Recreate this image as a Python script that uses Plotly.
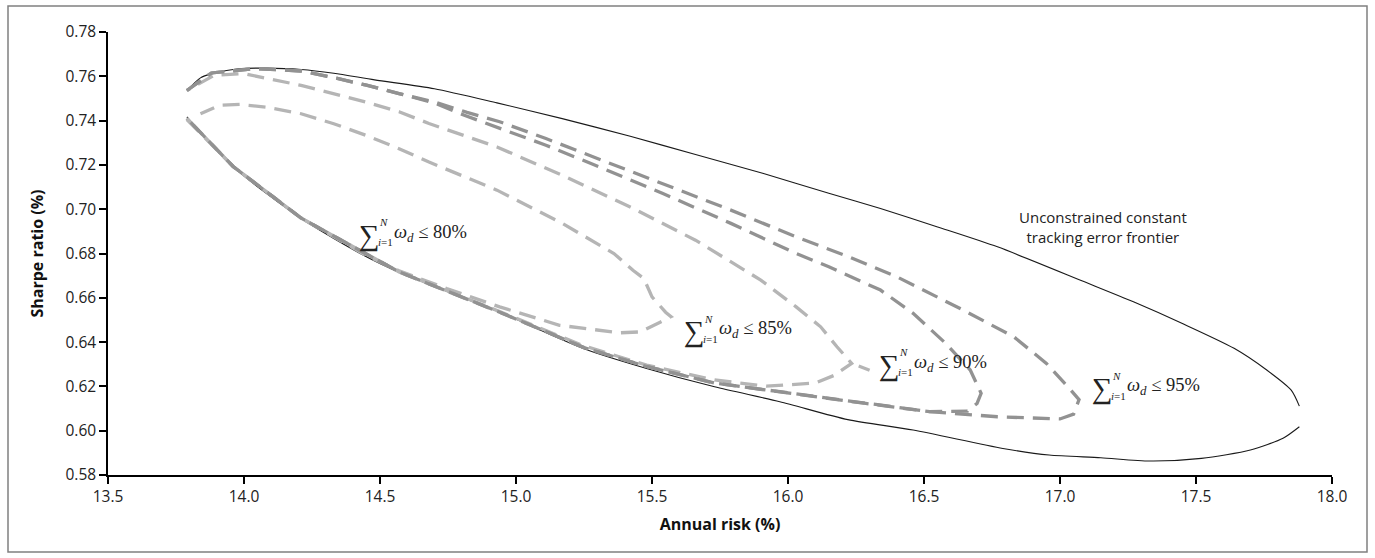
import plotly.graph_objects as go

# ---------------- data ----------------
risk_ticks = [13.5, 14.0, 14.5, 15.0, 15.5, 16.0, 16.5, 17.0, 17.5, 18.0]
sharpe_ticks = [0.58, 0.60, 0.62, 0.64, 0.66, 0.68, 0.70, 0.72, 0.74, 0.76, 0.78]

# Unconstrained constant tracking error frontier (upper and lower branch)
frontier_upper_risk = [13.79, 13.84, 13.88, 13.98, 14.08, 14.21, 14.33, 14.48, 14.70, 14.93,
                       15.17, 15.42, 15.66, 15.91, 16.15, 16.34, 16.55, 16.77, 17.09, 17.27, 17.45,
                       17.64, 17.76, 17.85, 17.88]
frontier_upper_sharpe = [0.7536, 0.7593, 0.7611, 0.7634, 0.7637, 0.7631, 0.7614, 0.7584, 0.7544, 0.7480,
                         0.7409, 0.7329, 0.7247, 0.7161, 0.7072, 0.7003, 0.6920, 0.6830, 0.6672, 0.6582,
                         0.6484, 0.6372, 0.6274, 0.6183, 0.6111]
frontier_lower_risk = [17.88, 17.82, 17.70, 17.52, 17.33, 17.15, 16.96, 16.79, 16.46, 16.22,
                       15.97, 15.73, 15.48, 15.25, 14.94, 14.57, 14.45, 14.21, 13.96, 13.79]
frontier_lower_sharpe = [0.6018, 0.5966, 0.5913, 0.5875, 0.5863, 0.5878, 0.5890, 0.5920, 0.6003, 0.6050,
                         0.6131, 0.6198, 0.6281, 0.6370, 0.6535, 0.6715, 0.6785, 0.6958, 0.7191, 0.7417]

# sum(w_d) <= 95%
c95_risk = [13.79, 13.88, 14.04, 14.21, 14.33, 14.45, 14.57, 14.70, 14.82, 14.94,
            15.11, 15.30, 15.54, 15.79, 16.03, 16.22, 16.40, 16.645, 16.83, 16.95, 17.04,
            17.07, 17.05, 17.00, 16.77, 16.52, 16.28, 16.15, 15.97, 15.73, 15.48,
            15.25, 14.94, 14.57, 14.21, 13.96, 13.79]
c95_sharpe = [0.7536, 0.7615, 0.7635, 0.7624, 0.7594, 0.7560, 0.7522, 0.7484, 0.7437, 0.7395,
              0.7319, 0.7229, 0.7116, 0.6996, 0.6875, 0.6787, 0.6695, 0.6544, 0.6424, 0.6304, 0.6183,
              0.6140, 0.6075, 0.6053, 0.6063, 0.6086, 0.6124, 0.6146, 0.6176, 0.6215, 0.6290,
              0.6375, 0.6535, 0.6717, 0.6960, 0.7193, 0.7410]

# sum(w_d) <= 90%
c90_risk = [13.79, 13.88, 14.04, 14.21, 14.33, 14.45, 14.57, 14.70, 14.81, 14.94,
            15.11, 15.32, 15.54, 15.79, 16.03, 16.15, 16.34, 16.46, 16.58, 16.67,
            16.71, 16.695, 16.66, 16.52, 16.28, 16.15, 15.97, 15.73, 15.48, 15.25,
            14.94, 14.57, 14.21, 13.96, 13.79]
c90_sharpe = [0.7536, 0.7615, 0.7635, 0.7624, 0.7594, 0.7560, 0.7522, 0.7480, 0.7424, 0.7365,
              0.7289, 0.7184, 0.7071, 0.6936, 0.6800, 0.6740, 0.6635, 0.6530, 0.6394, 0.6274,
              0.6169, 0.6123, 0.6088, 0.6086, 0.6124, 0.6146, 0.6176, 0.6215, 0.6290, 0.6375,
              0.6535, 0.6717, 0.6960, 0.7193, 0.7410]

# sum(w_d) <= 85%
c85_risk = [13.79, 13.96, 14.21, 14.57, 14.94, 15.24, 15.48, 15.73, 15.92, 16.10,
            16.17, 16.234, 16.18, 16.12, 16.03, 15.90, 15.66, 15.42, 15.17, 14.93,
            14.68, 14.57, 14.45, 14.33, 14.21, 14.00, 13.89, 13.79]
c85_sharpe = [0.7410, 0.7193, 0.6960, 0.6717, 0.6538, 0.6387, 0.6296, 0.6229, 0.6201, 0.6215,
              0.6250, 0.6304, 0.6379, 0.6469, 0.6559, 0.6680, 0.6860, 0.7010, 0.7153, 0.7281,
              0.7387, 0.7440, 0.7483, 0.7521, 0.7559, 0.7612, 0.7604, 0.7536]
c85_tail_risk = [16.26, 16.30]
c85_tail_sharpe = [0.6292, 0.6273]

# sum(w_d) <= 80%
c80_risk = [13.79, 13.96, 14.21, 14.45, 14.57, 14.745, 14.94, 15.16, 15.38, 15.456,
            15.53, 15.57, 15.55, 15.50, 15.47, 15.43, 15.36, 15.17, 14.93, 14.68,
            14.57, 14.45, 14.33, 14.21, 14.08, 13.985, 13.91, 13.84]
c80_sharpe = [0.7405, 0.7193, 0.6960, 0.6790, 0.6722, 0.6642, 0.6559, 0.6476, 0.6442, 0.6446,
              0.6490, 0.6515, 0.6535, 0.6604, 0.6687, 0.6724, 0.6800, 0.6936, 0.7086, 0.7213,
              0.7273, 0.7333, 0.7386, 0.7431, 0.7461, 0.7473, 0.7469, 0.7431]

# label anchors: (risk, sharpe, text)
sum_labels = [(14.415, 0.6887, "80%"), (15.610, 0.6452, "85%"),
              (16.327, 0.6300, "90%"), (17.110, 0.6193, "95%")]
frontier_label = (17.158, 0.6921, "Unconstrained constant<br>tracking error frontier")

# ---------------- styles ----------------
LIGHT = "#b5b5b5"
DARK = "#929292"
DASH = "17px,9px"

fig = go.Figure()

fig.add_trace(go.Scatter(
    x=frontier_upper_risk + [None] + frontier_lower_risk,
    y=frontier_upper_sharpe + [None] + frontier_lower_sharpe,
    mode="lines", line=dict(color="#1a1a1a", width=1.1, shape="spline", smoothing=0.7),
    connectgaps=False, showlegend=False, hoverinfo="skip"))

for xs, ys, col in [(c80_risk, c80_sharpe, LIGHT), (c85_risk, c85_sharpe, LIGHT),
                    (c85_tail_risk, c85_tail_sharpe, LIGHT),
                    (c90_risk, c90_sharpe, DARK), (c95_risk, c95_sharpe, DARK)]:
    fig.add_trace(go.Scatter(x=xs, y=ys, mode="lines",
                             line=dict(color=col, width=3.3, dash=DASH),
                             showlegend=False, hoverinfo="skip"))

serif = "Liberation Serif"
annotations = []
for rx, sy, pct in sum_labels:
    annotations.append(dict(x=rx, y=sy, xref="x", yref="y", text="∑", showarrow=False,
                            xanchor="left", yanchor="middle", yshift=-1,
                            font=dict(family=serif, size=29, color="#222")))
    annotations.append(dict(x=rx, y=sy, xref="x", yref="y", text="<i>N</i>", showarrow=False,
                            xanchor="left", yanchor="middle", xshift=20, yshift=12,
                            font=dict(family=serif, size=11, color="#222")))
    annotations.append(dict(x=rx, y=sy, xref="x", yref="y", text="<i>i</i>=1", showarrow=False,
                            xanchor="left", yanchor="middle", xshift=19, yshift=-8,
                            font=dict(family=serif, size=11, color="#222")))
    annotations.append(dict(x=rx, y=sy, xref="x", yref="y",
                            text="<i>ω</i><sub><i>d</i></sub> ≤ " + pct, showarrow=False,
                            xanchor="left", yanchor="middle", xshift=35, yshift=1,
                            font=dict(family=serif, size=18.5, color="#222")))

annotations.append(dict(x=frontier_label[0], y=frontier_label[1], xref="x", yref="y",
                        text=frontier_label[2], showarrow=False, align="center",
                        xanchor="center", yanchor="middle",
                        font=dict(family="Open Sans", size=15, color="#222")))

axis_font = dict(family="Open Sans", size=15.5, color="#222")
title_font = dict(family="Open Sans", size=16, color="#111")

fig.update_layout(
    width=1375, height=558,
    margin=dict(l=108, r=43, t=32, b=83, autoexpand=False),
    paper_bgcolor="white", plot_bgcolor="white",
    showlegend=False,
    annotations=annotations,
    shapes=[dict(type="rect", xref="paper", yref="paper",
                 x0=(8 - 108) / 1224, x1=(1367 - 108) / 1224,
                 y0=(475 - 552) / 443, y1=(475 - 6) / 443,
                 line=dict(color="#808080", width=1.5), layer="below")],
    xaxis=dict(range=[13.5, 18.0], tickvals=risk_ticks,
               ticktext=[f"{v:.1f}" for v in risk_ticks],
               showline=True, linecolor="black", linewidth=1.5,
               ticks="outside", ticklen=7, tickwidth=1.5, tickcolor="black",
               showgrid=False, zeroline=False, tickfont=axis_font, automargin=False,
               title=dict(text="<b>Annual risk (%)</b>", font=title_font, standoff=12)),
    yaxis=dict(range=[0.58, 0.78], tickvals=sharpe_ticks,
               ticktext=[f"{v:.2f}" for v in sharpe_ticks],
               showline=True, linecolor="black", linewidth=1.5,
               ticks="outside", ticklen=7, tickwidth=1.5, tickcolor="black",
               showgrid=False, zeroline=False, tickfont=axis_font, automargin=False,
               title=dict(text="<b>Sharpe ratio (%)</b>", font=title_font, standoff=18)),
)

fig.write_html("out.html")
